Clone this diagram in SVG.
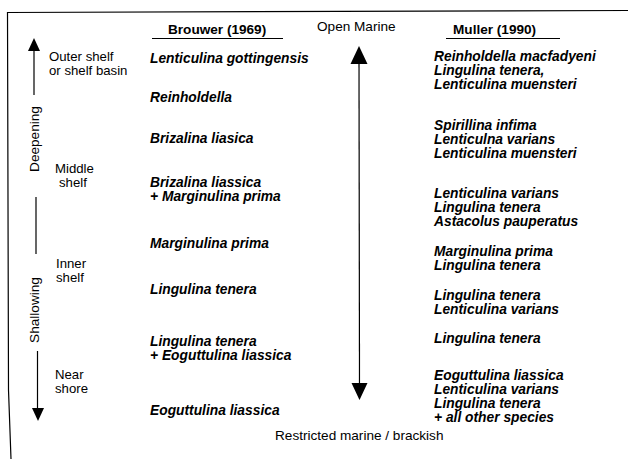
<svg xmlns="http://www.w3.org/2000/svg" width="631" height="459" viewBox="0 0 631 459">
<style>
text{font-family:"Liberation Sans",Arial,sans-serif;fill:#000}
.lab{font-size:13.6px}
.env{font-size:13.2px}
.hdr{font-size:13.6px;font-weight:bold}
.sp{font-size:13.8px;font-style:italic;font-weight:bold}
.ln{stroke:#000;stroke-width:1.2;fill:none}
.hd{fill:#000}
</style>
<rect width="631" height="459" fill="#fff"/>
<g id="frame">
<line class="ln" x1="7.5" y1="12.5" x2="628" y2="10.5" stroke-width="1.4"/>
<polyline class="ln" points="7.5,12 8.5,390 11,459" stroke-width="1.4"/>
</g>
<g id="headers">
<text class="hdr" x="168" y="34">Brouwer (1969)</text>
<line class="ln" x1="152" y1="38.5" x2="283" y2="38.5" stroke-width="1"/>
<text class="lab" x="317" y="31">Open Marine</text>
<text class="hdr" x="453" y="34">Muller (1990)</text>
<line class="ln" x1="446" y1="38.5" x2="560" y2="38.5" stroke-width="1"/>
<text class="lab" x="275" y="440">Restricted marine / brackish</text>
</g>
<g id="depth-axis">
<polygon class="hd" points="34,38 28,51 40,51"/>
<line class="ln" x1="34" y1="50" x2="34" y2="95"/>
<text class="lab" text-anchor="middle" transform="translate(38.5,139) rotate(-90)">Deepening</text>
<line class="ln" x1="36" y1="197" x2="36" y2="254"/>
<text class="lab" text-anchor="middle" transform="translate(39,310) rotate(-90)">Shallowing</text>
<line class="ln" x1="37.5" y1="351" x2="37.5" y2="409"/>
<polygon class="hd" points="32,408 44,408 38,421"/>
</g>
<g id="environments">
<text class="env" x="49" y="61">Outer shelf</text>
<text class="env" x="49" y="75">or shelf basin</text>
<text class="env" x="55" y="173">Middle</text>
<text class="env" x="59" y="187">shelf</text>
<text class="env" x="56" y="268">Inner</text>
<text class="env" x="56" y="282">shelf</text>
<text class="env" x="55" y="379">Near</text>
<text class="env" x="55" y="393">shore</text>
</g>
<g id="connectors">
<line class="ln" x1="359" y1="62" x2="359.5" y2="386"/>
<polygon class="hd" points="359,46 350.5,64 367.5,64"/>
<polygon class="hd" points="351.5,383 367.5,383 359.5,400"/>
</g>
<g id="brouwer">
<text class="sp" x="150" y="63">Lenticulina gottingensis</text>
<text class="sp" x="150" y="102">Reinholdella</text>
<text class="sp" x="150" y="143">Brizalina liasica</text>
<text class="sp" x="150" y="187">Brizalina liassica</text>
<text class="sp" x="150" y="201">+ Marginulina prima</text>
<text class="sp" x="150" y="248">Marginulina prima</text>
<text class="sp" x="150" y="294">Lingulina tenera</text>
<text class="sp" x="150" y="346">Lingulina tenera</text>
<text class="sp" x="150" y="360">+ Eoguttulina liassica</text>
<text class="sp" x="150" y="415">Eoguttulina liassica</text>
</g>
<g id="muller">
<text class="sp" x="434" y="61">Reinholdella macfadyeni</text>
<text class="sp" x="434" y="75">Lingulina tenera,</text>
<text class="sp" x="434" y="89">Lenticulina muensteri</text>
<text class="sp" x="434" y="130">Spirillina infima</text>
<text class="sp" x="434" y="144">Lenticulna varians</text>
<text class="sp" x="434" y="158">Lenticulina muensteri</text>
<text class="sp" x="434" y="198">Lenticulina varians</text>
<text class="sp" x="434" y="212">Lingulina tenera</text>
<text class="sp" x="434" y="226">Astacolus pauperatus</text>
<text class="sp" x="434" y="256">Marginulina prima</text>
<text class="sp" x="434" y="270">Lingulina tenera</text>
<text class="sp" x="434" y="300">Lingulina tenera</text>
<text class="sp" x="434" y="314">Lenticulina varians</text>
<text class="sp" x="434" y="343">Lingulina tenera</text>
<text class="sp" x="434" y="380">Eoguttulina liassica</text>
<text class="sp" x="434" y="394">Lenticulina varians</text>
<text class="sp" x="434" y="408">Lingulina tenera</text>
<text class="sp" x="434" y="422">+ all other species</text>
</g>
</svg>
